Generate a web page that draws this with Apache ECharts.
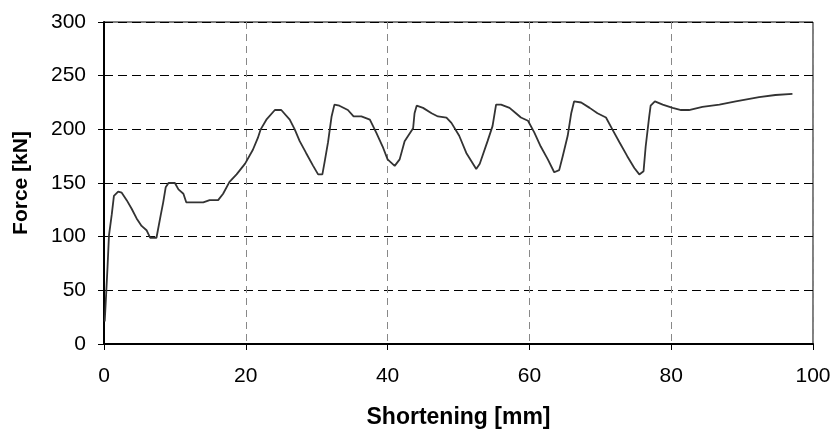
<!DOCTYPE html>
<html>
<head>
<meta charset="utf-8">
<script src="https://cdn.jsdelivr.net/npm/echarts@6/dist/echarts.min.js"></script>
<style>
  html, body { margin: 0; padding: 0; background: #fff; }
  #chart { width: 834px; height: 434px; }
</style>
</head>
<body>
<div id="chart"></div>
<script>
// shortening [mm]
var shortening = [
    0.1, 0.3, 0.5, 0.7, 1.1, 1.4, 2.0, 2.5, 3.2, 3.9, 4.6, 5.3, 6.0, 6.5, 7.4, 7.6, 8.0, 8.35, 8.7, 9.1,
    10.0, 10.5, 11.2, 11.6, 14.0, 14.9, 16.1, 16.8, 17.7, 18.7, 19.9, 21.0, 21.7, 22.1, 22.9, 24.1, 25.0,
    26.2, 26.9, 27.6, 28.5, 29.5, 30.2, 30.8, 31.1, 31.6, 32.1, 32.5, 33.2, 34.4, 35.2, 36.3, 37.5,
    38.4, 39.3, 40.0, 41.0, 41.7, 42.4, 43.6, 43.8, 44.1, 45.0, 46.2, 47.1, 48.3, 49.0, 50.1, 51.1,
    52.5, 53.0, 54.1, 54.8, 55.3, 56.0, 57.2, 58.1, 58.8, 59.8, 60.7, 61.6, 62.6, 63.5, 64.2, 64.7,
    65.4, 65.9, 66.3, 67.3, 68.5, 69.6, 70.8, 71.7, 72.7, 73.8, 74.8, 75.5, 76.1, 76.4, 76.9, 77.1,
    77.7, 78.8, 80.2, 81.4, 82.5, 84.4, 86.8, 89.1, 92.4, 94.7, 97.1
];
// force [kN]
var force = [
    21, 46, 72, 101, 121, 138, 142, 141, 134, 126, 117, 110, 106, 99, 99, 106, 120, 132, 146, 150,
    150, 144, 140, 132, 132, 134, 134, 140, 151, 158, 168, 181, 192, 200, 209, 218, 218,
    209, 200, 189, 178, 166, 158, 158, 169, 188, 212, 223, 222, 218, 212, 212, 209,
    197, 184, 172, 166, 172, 189, 201, 215, 222, 220, 215, 212, 211, 206, 194, 178,
    163, 168, 189, 203, 223, 223, 220, 215, 211, 208, 197, 184, 172, 160, 162, 175,
    194, 215, 226, 225, 220, 215, 211, 200, 188, 175, 164, 158, 161, 184, 212, 222,
    226, 223, 220, 218, 218, 221, 223, 226, 230, 232, 233
];
var xTicks = [0, 20, 40, 60, 80, 100];
var yTicks = [0, 50, 100, 150, 200, 250, 300];

var points = [];
for (var i = 0; i < shortening.length; i++) {
    points.push([shortening[i], force[i]]);
}

var font = 'Liberation Sans, Arial, sans-serif';
var chart = echarts.init(document.getElementById('chart'), null, { renderer: 'canvas' });
chart.setOption({
    animation: false,
    backgroundColor: '#fff',
    textStyle: { fontFamily: font },
    grid: {
        left: 104, right: 21, top: 22, bottom: 88,
        show: true, borderColor: '#000', borderWidth: 1, backgroundColor: 'transparent'
    },
    xAxis: {
        type: 'value',
        min: xTicks[0], max: xTicks[xTicks.length - 1], interval: 20,
        name: 'Shortening [mm]',
        nameLocation: 'middle',
        nameGap: 62,
        nameTextStyle: { fontSize: 23, fontWeight: 'bold', color: '#000', fontFamily: font },
        axisLine: { lineStyle: { color: '#000', width: 2 } },
        axisTick: { show: true, length: 6, lineStyle: { color: '#000', width: 1 } },
        axisLabel: { fontSize: 21, color: '#000', margin: 22 },
        splitLine: { show: true, lineStyle: { color: '#888', type: [7, 5], width: 1 } }
    },
    yAxis: {
        type: 'value',
        min: yTicks[0], max: yTicks[yTicks.length - 1], interval: 50,
        name: 'Force [kN]',
        nameLocation: 'middle',
        nameGap: 72,
        nameRotate: 90,
        nameTextStyle: { fontSize: 21, fontWeight: 'bold', color: '#000', fontFamily: font },
        axisLine: { show: true, lineStyle: { color: '#000', width: 2 } },
        axisTick: { show: true, length: 6, lineStyle: { color: '#000', width: 1 } },
        axisLabel: { fontSize: 21, color: '#000', margin: 18 },
        splitLine: { show: true, lineStyle: { color: '#000', type: [9, 5], width: 1 } }
    },
    series: [{
        type: 'line',
        data: points,
        showSymbol: false,
        smooth: false,
        lineStyle: { color: '#333', width: 1.8 }
    }]
});
</script>
</body>
</html>
